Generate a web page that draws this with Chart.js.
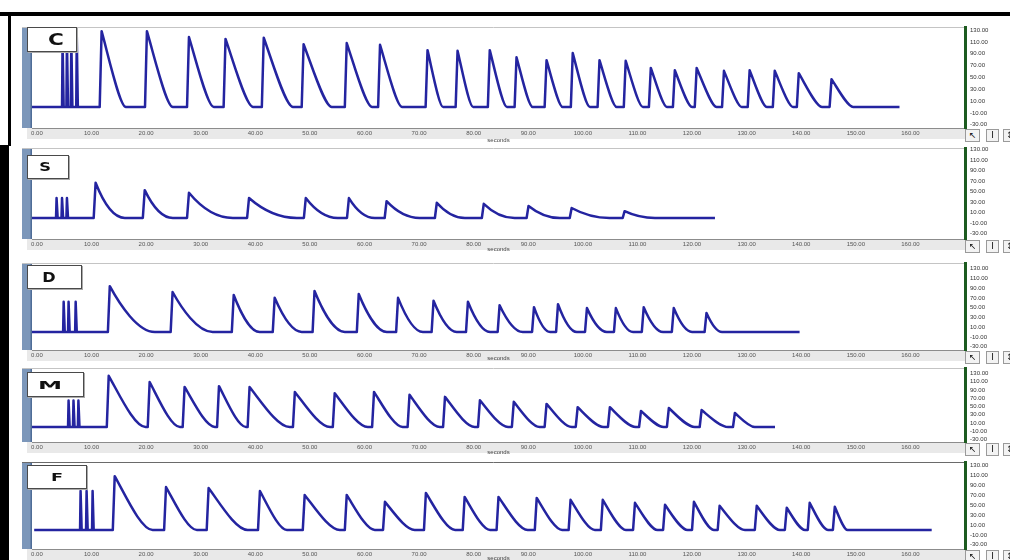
<!DOCTYPE html>
<html>
<head>
<meta charset="utf-8">
<script src="https://cdn.jsdelivr.net/npm/chart.js@4.4.1/dist/chart.umd.min.js"></script>
<style>
body{margin:0;background:#fff;}
#page{position:relative;width:1010px;height:560px;overflow:hidden;background:#fff;}
canvas{position:absolute;left:0;}
.tag{position:absolute;left:27px;background:#fff;border:1px solid #4a4a4a;box-shadow:1px 1px 0 #aaa;z-index:3;}
.tag span{position:absolute;top:50%;font-family:"DejaVu Sans",sans-serif;font-weight:bold;color:#111;line-height:1;}
.tool{position:absolute;height:11px;border:1px solid #9a9a9a;background:#f3f3f3;font-family:"DejaVu Sans",sans-serif;font-size:9px;line-height:11px;text-align:center;color:#111;z-index:3;overflow:hidden;}
.blk{position:absolute;background:#000;}
</style>
</head>
<body>
<div id="page">
  <div class="blk" style="left:0;top:12px;width:1010px;height:4px"></div>
  <div class="blk" style="left:8px;top:12px;width:3px;height:134px"></div>
  <div class="blk" style="left:0;top:145px;width:9px;height:415px"></div>
</div>
<script>
// axis ticks
var secTicks = [0, 10, 20, 30, 40, 50, 60, 70, 80, 90, 100, 110, 120, 130, 140, 150, 160];
var unitTicks = [-30, -10, 10, 30, 50, 70, 90, 110, 130];

// C
var cSpikeT = [4.6, 5.4, 6.2, 7.2];
var cSpikeV = [112, 114, 116, 120];
var cOn  = [11.5, 19.8, 27.5, 34.2, 41.2, 48.5, 56.4, 62.5, 71.2, 76.7, 82.6, 87.5, 93.0, 97.8, 102.7, 107.5, 112.1, 116.5, 120.5, 125.5, 130.2, 134.8, 139.2, 145.2];
var cTop = [128, 128, 118, 115, 117, 106, 108, 105, 96, 95, 96, 84, 79, 91, 79, 78, 66, 62, 66, 61, 62, 61, 57, 47];
var cOff = [16.3, 24.9, 32.4, 39.6, 46.9, 54.0, 61.4, 66.9, 74.4, 79.9, 86.1, 90.8, 96.3, 101.3, 106.2, 111.0, 115.4, 120.0, 124.5, 129.1, 133.7, 138.5, 143.8, 149.5];
var cEnd = 158;

// S
var sSpikeT = [3.5, 4.5, 5.4];
var sSpikeV = [38, 38, 38];
var sOn  = [10.4, 19.4, 27.5, 38.5, 48.9, 56.8, 63.7, 72.9, 81.5, 89.7, 97.6, 107.3];
var sTop = [67, 53, 48, 38, 38, 38, 32, 29, 27, 23, 19, 13];
var sOff = [16.1, 24.9, 35.9, 47.6, 55.1, 61.9, 70.1, 78.4, 87.5, 95.8, 104.9, 113.2];
var sEnd = 124.2;

// D
var dSpikeT = [4.8, 5.7, 7.0];
var dSpikeV = [62, 62, 62];
var dOn  = [13.0, 24.5, 35.7, 43.2, 50.5, 58.6, 65.8, 72.3, 78.6, 84.4, 90.7, 95.1, 100.4, 105.7, 110.8, 116.3, 122.3];
var dTop = [94, 82, 76, 70, 84, 78, 70, 64, 62, 55, 51, 57, 49, 49, 51, 49, 39];
var dOff = [21.6, 32.2, 40.8, 48.5, 56.4, 64.1, 70.7, 76.9, 83.0, 89.0, 94.0, 98.9, 104.4, 109.2, 114.7, 120.0, 125.5];
var dEnd = 139.7;

// M
var mSpikeT = [5.7, 6.6, 7.5];
var mSpikeV = [64, 64, 64];
var mOn  = [12.8, 20.3, 26.7, 33.0, 38.6, 46.9, 54.2, 61.4, 67.9, 74.4, 80.8, 87.0, 93.0, 98.7, 104.6, 110.3, 115.4, 121.4, 127.5];
var mTop = [124, 109, 97, 99, 97, 85, 82, 85, 78, 73, 65, 61, 56, 48, 48, 39, 46, 41, 34];
var mOff = [19.9, 26.2, 32.6, 38.3, 46.3, 53.7, 60.6, 67.0, 73.8, 80.2, 86.3, 92.1, 98.0, 103.8, 109.7, 114.8, 120.5, 126.6, 131.5];
var mEnd = 135.2;

// F
var fSpikeT = [7.9, 9.0, 10.1];
var fSpikeV = [79, 79, 79];
var fOn  = [13.9, 23.3, 31.1, 40.5, 48.7, 56.4, 63.4, 70.9, 78.0, 84.2, 91.2, 97.4, 103.3, 109.2, 114.7, 120.0, 124.7, 131.5, 137.0, 141.2, 145.8];
var fTop = [109, 87, 85, 79, 71, 71, 57, 75, 67, 67, 65, 61, 61, 55, 51, 57, 49, 49, 45, 55, 47];
var fOff = [21.2, 29.3, 38.6, 45.8, 55.5, 61.9, 69.2, 76.6, 83.0, 89.9, 96.2, 102.2, 107.9, 113.7, 119.2, 124.0, 129.7, 136.1, 140.7, 144.9, 148.5];
var fEnd = 163.9;

Chart.defaults.font.family = '"Liberation Sans", Arial, sans-serif';

// baseline -> stimulus spikes -> twitches (rise, peak, decay back to baseline)
function trace(start, spT, spV, on, top, off, end) {
	var pts = [{x: start, y: 0}];
	for (var i = 0; i < spT.length; i++) {
		pts.push({x: spT[i], y: 0}, {x: spT[i] + 0.1, y: spV[i]}, {x: spT[i] + 0.3, y: 0});
	}
	for (var j = 0; j < on.length; j++) {
		pts.push({x: on[j], y: 0}, {x: on[j] + 0.35, y: top[j], k: 1}, {x: off[j], y: 0});
	}
	pts.push({x: end, y: 0});
	return pts;
}

var panels = [
	{id: 'C', top: 27,  plotH: 101, axisH: 16, yMin: -35.5, yMax: 135.1, pts: trace(-0.9, cSpikeT, cSpikeV, cOn, cTop, cOff, cEnd),
	 bend: [0.3, 0.35, 0.25], tag: {top: 27, w: 48, h: 23, cx: 28, fs: 16, sx: 1.35}, line: '#c4c4c4'},
	{id: 'S', top: 148, plotH: 91, axisH: 14, yMin: -40, yMax: 133.3, pts: trace(-0.9, sSpikeT, sSpikeV, sOn, sTop, sOff, sEnd),
	 bend: [0.2, 0.42, 0.45], tag: {top: 155, w: 40, h: 22, cx: 17, fs: 12.5, sx: 1.3}, line: '#c4c4c4'},
	{id: 'D', top: 263, plotH: 87, axisH: 12, yMin: -36.9, yMax: 141.5, pts: trace(-0.9, dSpikeT, dSpikeV, dOn, dTop, dOff, dEnd),
	 bend: [0.22, 0.4, 0.38], tag: {top: 265, w: 53, h: 22, cx: 21, fs: 14, sx: 1.15}, line: '#c4c4c4'},
	{id: 'M', top: 368, plotH: 74, axisH: 14, yMin: -36.4, yMax: 143, pts: trace(-0.9, mSpikeT, mSpikeV, mOn, mTop, mOff, mEnd),
	 bend: [0.3, 0.38, 0.3], tag: {top: 372, w: 55, h: 23, cx: 22, fs: 11, sx: 2.2}, line: '#c4c4c4'},
	{id: 'F', top: 462, plotH: 87, axisH: 13, yMin: -38.5, yMax: 137.7, pts: trace(-0.5, fSpikeT, fSpikeV, fOn, fTop, fOff, fEnd),
	 bend: [0.3, 0.38, 0.3], tag: {top: 465, w: 58, h: 22, cx: 29, fs: 11, sx: 1.6}, line: '#6a6a6a'}
];

// frame pieces around each plot: channel strip, top rule, grey time band
var panelDeco = {
	id: 'panelDeco',
	beforeDraw: function(chart, args, opts) {
		var ctx = chart.ctx, a = chart.chartArea;
		ctx.save();
		ctx.fillStyle = '#e9e9e9';
		ctx.fillRect(27, a.bottom, a.right - 27, 11);
		ctx.fillStyle = '#7c97ba';
		ctx.fillRect(22, a.top, 10, a.bottom - a.top);
		ctx.fillStyle = '#4f6d97';
		ctx.fillRect(30.5, a.top, 1.5, a.bottom - a.top);
		ctx.strokeStyle = opts.line;
		ctx.lineWidth = 1;
		ctx.beginPath();
		ctx.moveTo(22, a.top + 0.5);
		ctx.lineTo(a.right, a.top + 0.5);
		ctx.stroke();
		ctx.restore();
	}
};

// straight segments everywhere, except the relaxation after each peak,
// which bends into the baseline
var decayShape = {
	id: 'decayShape',
	beforeDatasetDraw: function(chart, args, opts) {
		var meta = args.meta, line = meta.dataset, pts = meta.data;
		var raw = chart.data.datasets[args.index].data;
		var b = opts.bend;
		line.updateControlPoints(chart.chartArea, 'x');
		for (var i = 0; i < pts.length; i++) {
			pts[i].cp1x = pts[i].x; pts[i].cp1y = pts[i].y;
			pts[i].cp2x = pts[i].x; pts[i].cp2y = pts[i].y;
		}
		for (var j = 0; j < pts.length - 1; j++) {
			if (raw[j].k === 1) {
				var p = pts[j], q = pts[j + 1];
				var dx = q.x - p.x, dy = q.y - p.y;
				p.cp2x = p.x + dx * b[0]; p.cp2y = p.y + dy * b[1];
				q.cp1x = q.x - dx * b[2]; q.cp1y = q.y;
			}
		}
	}
};

var page = document.getElementById('page');

panels.forEach(function(p) {
	var cv = document.createElement('canvas');
	cv.width = 1010;
	cv.height = 10 + p.plotH + p.axisH;
	cv.style.top = (p.top - 10) + 'px';
	page.appendChild(cv);

	new Chart(cv, {
		type: 'line',
		data: {
			datasets: [{
				label: p.id,
				data: p.pts,
				borderColor: '#2424a0',
				borderWidth: 2.5,
				borderJoinStyle: 'round',
				pointRadius: 0,
				tension: 0.01,
				fill: false
			}]
		},
		options: {
			responsive: false,
			animation: false,
			devicePixelRatio: 1,
			events: [],
			layout: {padding: {left: 32, top: 10, right: 0, bottom: 0}},
			plugins: {
				legend: {display: false},
				tooltip: {enabled: false},
				panelDeco: {line: p.line},
				decayShape: {bend: p.bend}
			},
			scales: {
				x: {
					type: 'linear', min: -0.9, max: 170,
					afterBuildTicks: function(ax) { ax.ticks = secTicks.map(function(v) { return {value: v}; }); },
					afterFit: function(s) { s.height = p.axisH; },
					grid: {display: false, drawTicks: false},
					border: {display: true, color: '#8c8c8c', width: 1},
					ticks: {autoSkip: false, maxRotation: 0, padding: 1.5, color: '#555', font: {size: 6},
						callback: function(v) { return Number(v).toFixed(2); }},
					title: {display: true, text: 'seconds', color: '#444', font: {size: 6}, padding: 0}
				},
				y: {
					type: 'linear', position: 'right', min: p.yMin, max: p.yMax,
					afterBuildTicks: function(ax) { ax.ticks = unitTicks.map(function(v) { return {value: v}; }); },
					afterFit: function(s) { s.width = 45; },
					grid: {display: false, drawTicks: false},
					border: {display: true, color: '#1d5b20', width: 3},
					ticks: {autoSkip: false, padding: 5, color: '#333', font: {size: 6},
						callback: function(v) { return Number(v).toFixed(2); }}
				}
			}
		},
		plugins: [panelDeco, decayShape]
	});

	// channel name box
	var t = p.tag;
	var tag = document.createElement('div');
	tag.className = 'tag';
	tag.style.top = t.top + 'px';
	tag.style.width = t.w + 'px';
	tag.style.height = t.h + 'px';
	var sp = document.createElement('span');
	sp.textContent = p.id;
	sp.style.left = t.cx + 'px';
	sp.style.fontSize = t.fs + 'px';
	sp.style.transform = 'translate(-50%,-50%) scaleX(' + t.sx + ')';
	tag.appendChild(sp);
	page.appendChild(tag);

	// cursor tools under the scale
	var ty = p.top + p.plotH + 1;
	[[965, 13, '\u2196'], [986, 11, 'I'], [1003, 12, '\u2195']].forEach(function(b) {
		var d = document.createElement('div');
		d.className = 'tool';
		d.style.left = b[0] + 'px';
		d.style.top = ty + 'px';
		d.style.width = b[1] + 'px';
		d.textContent = b[2];
		page.appendChild(d);
	});
});
</script>
</body>
</html>
